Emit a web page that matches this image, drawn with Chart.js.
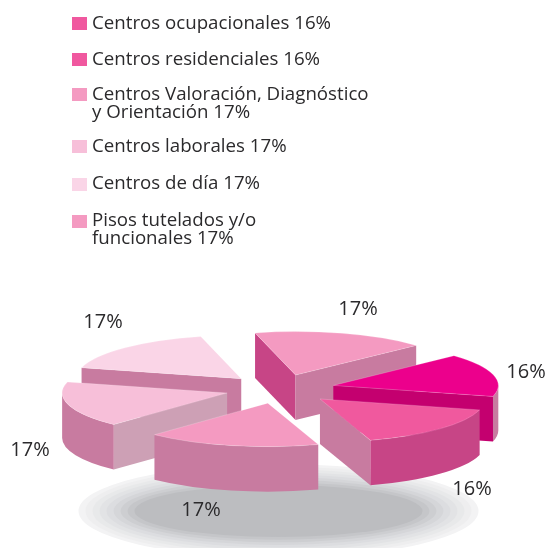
<!DOCTYPE html>
<html>
<head>
<meta charset="utf-8">
<script src="https://cdn.jsdelivr.net/npm/chart.js@4"></script>
<style>
  body { margin: 0; background: #fff; }
  #wrap { position: relative; width: 548px; height: 548px; overflow: hidden; }
  #grafico { position: absolute; left: 0; top: 0; }
  .item { position: absolute; left: 92px; font: 18.7px/18.4px "Open Sans", sans-serif; color: #2b2a2c; white-space: pre; }
  .caja { position: absolute; left: 72px; width: 15px; height: 13px; }
</style>
</head>
<body>
<div id="wrap">
  <canvas id="grafico" width="548" height="548"></canvas>
</div>
<script>
// datos
const categorias = ['Centros ocupacionales', 'Centros residenciales', 'Centros Valoración, Diagnóstico\ny Orientación', 'Centros laborales', 'Centros de día', 'Pisos tutelados y/o\nfuncionales']
const valores = [16, 16, 17, 17, 17, 17]
const coloresLeyenda = ['#f0589f', '#f0589f', '#f49ac1', '#f7bfd9', '#fad5e7', '#f49ac1']

// colores de cada porcion: tapa, pared de fuera, pared inicial, pared final
const coloresTapa = ['#ec008c', '#f0599e', '#f49ac1', '#f7bfd9', '#fad5e7', '#f49ac1']
const coloresFuera = ['#c87ba0', '#c74586', '#c87ba0', '#c87ba0', '#c87ba0', '#c87ba0']
const coloresInicio = ['#c87ba0', '#c87ba0', '#c87ba0', '#cda0b5', '#c87ba0', '#c74586']
const coloresFin = ['#c4006f', '#c87ba0', '#c87ba0', '#c87ba0', '#c87ba0', '#c87ba0']

// posicion de cosas
const topLeyenda = [13, 49, 84, 136, 173, 210]
const topCajas = [17, 53, 88, 140, 178, 215]
const posEtiquetas = [[526, 372], [472, 489], [201, 510], [30, 450], [103, 322], [358, 309]]
const centro = { x: 280, y: 389 }
const aplastado = 0.2636
const radio = 165
const separacion = 55
const grosor = 45
const anillosSombra = ['#f3f3f4', '#eeeeef', '#e8e9ea', '#e2e3e5', '#dcdde0', '#d5d6d9', '#cdced1', '#c5c6c9', '#bcbdc0']

// leyenda
const wrap = document.getElementById('wrap')
categorias.forEach((nombre, i) => {
  const caja = document.createElement('div')
  caja.className = 'caja'
  caja.style.top = topCajas[i] + 'px'
  caja.style.background = coloresLeyenda[i]
  wrap.appendChild(caja)
  const item = document.createElement('div')
  item.className = 'item'
  item.style.top = topLeyenda[i] + 'px'
  item.textContent = nombre + ' ' + valores[i] + '%'
  wrap.appendChild(item)
})

// sombra del suelo
function pintarSombra(ctx) {
  const n = anillosSombra.length
  anillosSombra.forEach((color, i) => {
    const t = i / (n - 1)
    ctx.fillStyle = color
    ctx.beginPath()
    ctx.ellipse(278.5, 511, 200 - 56 * t, 47 - 21 * t, 0, 0, Math.PI * 2)
    ctx.fill()
  })
}

function paredRecta(ctx, arc, ang, color, dy) {
  ctx.fillStyle = color
  ctx.beginPath()
  ctx.moveTo(arc.x, arc.y)
  ctx.lineTo(arc.x + Math.cos(ang) * arc.outerRadius, arc.y + Math.sin(ang) * arc.outerRadius)
  ctx.lineTo(arc.x + Math.cos(ang) * arc.outerRadius, arc.y + Math.sin(ang) * arc.outerRadius + dy)
  ctx.lineTo(arc.x, arc.y + dy)
  ctx.closePath()
  ctx.fill()
}

// porciones en 3D a partir de los arcos que calcula chart.js
const pastel3d = {
  id: 'pastel3d',
  beforeDatasetDraw(chart, args) {
    const ctx = chart.ctx
    pintarSombra(ctx)
    const dy = grosor / aplastado
    const arcos = args.meta.data.map((arc, i) => ({ arc, i }))
    const medio = a => (a.arc.startAngle + a.arc.endAngle) / 2
    arcos.sort((a, b) => Math.sin(medio(a)) - Math.sin(medio(b)))

    ctx.save()
    ctx.translate(centro.x, centro.y)
    ctx.scale(1, aplastado)
    for (const { arc, i } of arcos) {
      const a = arc.startAngle
      const b = arc.endAngle
      const mid = (a + b) / 2
      ctx.save()
      ctx.translate(-arc.x + Math.cos(mid) * separacion, -arc.y + Math.sin(mid) * separacion)
      if (Math.cos(a) < 0) paredRecta(ctx, arc, a, coloresInicio[i], dy)
      if (Math.cos(b) > 0) paredRecta(ctx, arc, b, coloresFin[i], dy)
      const s = Math.max(a, 0)
      const e = Math.min(b, Math.PI)
      if (e > s) {
        ctx.fillStyle = coloresFuera[i]
        ctx.beginPath()
        ctx.arc(arc.x, arc.y, arc.outerRadius, s, e)
        ctx.arc(arc.x, arc.y + dy, arc.outerRadius, e, s, true)
        ctx.closePath()
        ctx.fill()
      }
      arc.draw(ctx)
      ctx.restore()
    }
    ctx.restore()
    return false
  },
  afterDraw(chart) {
    const ctx = chart.ctx
    ctx.save()
    ctx.font = '20px "Open Sans", sans-serif'
    ctx.fillStyle = '#2b2a2c'
    ctx.textAlign = 'center'
    ctx.textBaseline = 'middle'
    valores.forEach((v, i) => ctx.fillText(v + '%', posEtiquetas[i][0], posEtiquetas[i][1]))
    ctx.restore()
  }
}

new Chart(document.getElementById('grafico'), {
  type: 'pie',
  data: {
    labels: categorias,
    datasets: [{
      data: valores,
      backgroundColor: coloresTapa,
      borderWidth: 1,
      borderColor: 'rgba(255,255,255,0.3)'
    }]
  },
  options: {
    responsive: false,
    animation: false,
    rotation: 47,
    radius: radio,
    plugins: { legend: { display: false }, tooltip: { enabled: false } }
  },
  plugins: [pastel3d]
})
</script>
</body>
</html>
